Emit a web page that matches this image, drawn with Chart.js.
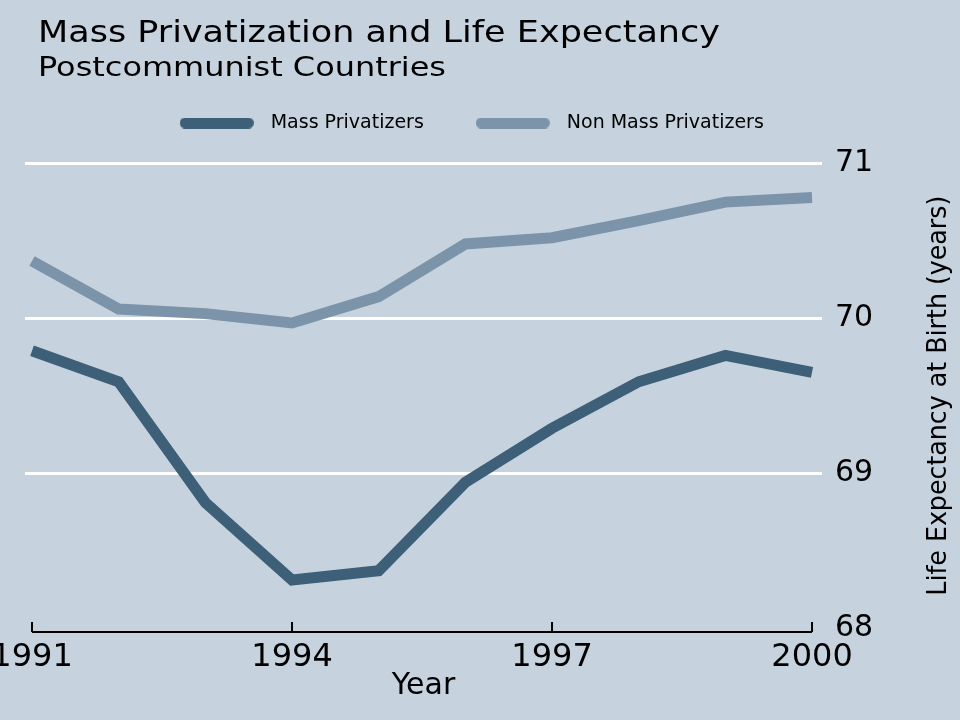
<!DOCTYPE html>
<html>
<head>
<meta charset="utf-8">
<script src="https://cdn.jsdelivr.net/npm/chart.js@4.4.1/dist/chart.umd.min.js"></script>
<style>
  html, body { margin: 0; padding: 0; background: #c6d3df; }
  #wrap { width: 960px; height: 720px; }
</style>
</head>
<body>
<div id="wrap"><canvas id="graphiqueVie"></canvas></div>
<script>
const annees = [1991, 1992, 1993, 1994, 1995, 1996, 1997, 1998, 1999, 2000];
const massPrivatizers = [69.79, 69.59, 68.81, 68.31, 68.37, 68.94, 69.29, 69.59, 69.76, 69.65];
const nonMassPrivatizers = [70.37, 70.06, 70.03, 69.97, 70.14, 70.48, 70.52, 70.63, 70.75, 70.78];
const xTicks = [1991, 1994, 1997, 2000];
const yTicks = [68, 69, 70, 71];

const titre = 'Mass Privatization and Life Expectancy';
const sousTitre = 'Postcommunist Countries';
const titreY = 'Life Expectancy at Birth (years)';

const FOND = '#c6d3df';
const COUL_MASS = '#3e5f78';
const COUL_NON = '#7c94aa';
const POLICE = '"DejaVu Sans", Verdana, sans-serif';

const toPoints = vals => annees.map((a, i) => ({ x: a, y: vals[i] }));

// petite pastille arrondie pour la légende
function pastille(couleur) {
    const c = document.createElement('canvas');
    c.width = 74; c.height = 11;
    const g = c.getContext('2d');
    g.fillStyle = couleur;
    g.beginPath();
    g.roundRect(0, 0, 74, 11, 5.5);
    g.fill();
    return c;
}

// texte étiré à une largeur donnée (le rendu d'origine est plus large)
function texteEtire(ctx, txt, x, y, largeur) {
    const w = ctx.measureText(txt).width;
    ctx.save();
    ctx.translate(x, y);
    ctx.scale(largeur / w, 1);
    ctx.fillText(txt, 0, 0);
    ctx.restore();
}

const decor = {
    id: 'decor',
    beforeDraw(chart) {
        const ctx = chart.ctx;
        ctx.save();
        ctx.fillStyle = FOND;
        ctx.fillRect(0, 0, chart.width, chart.height);
        ctx.fillStyle = '#000';
        ctx.textBaseline = 'alphabetic';
        ctx.font = '30px ' + POLICE;
        texteEtire(ctx, titre, 38, 42, 682);
        ctx.font = '26px ' + POLICE;
        texteEtire(ctx, sousTitre, 38, 76, 408);
        ctx.restore();
    },
    afterDraw(chart) {
        const ctx = chart.ctx;
        const x = chart.scales.x, y = chart.scales.y;
        const y0 = y.getPixelForValue(yTicks[0]) + 4;
        ctx.save();
        ctx.strokeStyle = '#000';
        ctx.lineWidth = 2;
        ctx.beginPath();
        ctx.moveTo(x.getPixelForValue(xTicks[0]), y0);
        ctx.lineTo(x.getPixelForValue(xTicks[xTicks.length - 1]), y0);
        xTicks.forEach(t => {
            const px = x.getPixelForValue(t);
            ctx.moveTo(px, y0);
            ctx.lineTo(px, y0 - 10);
        });
        ctx.stroke();

        const cy = (y.getPixelForValue(68) + y.getPixelForValue(71)) / 2;
        ctx.translate(946, cy);
        ctx.rotate(-Math.PI / 2);
        ctx.font = '26px ' + POLICE;
        ctx.fillStyle = '#000';
        ctx.textBaseline = 'alphabetic';
        texteEtire(ctx, titreY, -200, 0, 400);
        ctx.restore();
    }
};

new Chart(document.getElementById('graphiqueVie'), {
    type: 'line',
    data: {
        datasets: [{
            label: 'Mass Privatizers',
            data: toPoints(massPrivatizers),
            borderColor: COUL_MASS,
            backgroundColor: COUL_MASS,
            borderWidth: 11,
            pointRadius: 0,
            pointStyle: pastille(COUL_MASS),
            tension: 0,
            borderJoinStyle: 'miter',
            borderCapStyle: 'butt'
        }, {
            label: 'Non Mass Privatizers',
            data: toPoints(nonMassPrivatizers),
            borderColor: COUL_NON,
            backgroundColor: COUL_NON,
            borderWidth: 11,
            pointRadius: 0,
            pointStyle: pastille(COUL_NON),
            tension: 0,
            borderJoinStyle: 'miter',
            borderCapStyle: 'butt'
        }]
    },
    options: {
        responsive: true,
        maintainAspectRatio: false,
        animation: false,
        clip: false,
        layout: { padding: { top: 69, left: 25, right: 49, bottom: 16 } },
        plugins: {
            legend: {
                position: 'top',
                labels: {
                    font: { family: POLICE, size: 19 },
                    color: '#000',
                    usePointStyle: true,
                    pointStyleWidth: 89,
                    padding: 44.5
                }
            },
            tooltip: { enabled: false }
        },
        scales: {
            x: {
                type: 'linear',
                min: 1990.919,
                max: 2000.115,
                afterBuildTicks(scale) { scale.ticks = xTicks.map(v => ({ value: v })); },
                afterFit(scale) { scale.paddingLeft = 0; scale.paddingRight = 0; },
                grid: { display: false, drawTicks: false },
                border: { display: false },
                ticks: {
                    font: { family: POLICE, size: 32 },
                    color: '#000',
                    padding: 10,
                    maxRotation: 0,
                    autoSkip: false,
                    callback: v => String(v)
                },
                title: {
                    display: true,
                    text: 'Year',
                    font: { family: POLICE, size: 30 },
                    color: '#000',
                    padding: { top: -18.4, bottom: 0 }
                }
            },
            y: {
                position: 'right',
                min: 68,
                max: 71.135,
                afterBuildTicks(scale) { scale.ticks = yTicks.map(v => ({ value: v })); },
                afterFit(scale) { scale.width = 89; scale.paddingTop = 0; scale.paddingBottom = 0; },
                grid: {
                    color: ctx => ctx.tick && ctx.tick.value === 68 ? 'rgba(0,0,0,0)' : '#ffffff',
                    lineWidth: 3,
                    drawTicks: false
                },
                border: { display: false },
                ticks: {
                    font: { family: POLICE, size: 30 },
                    color: '#000',
                    padding: 13
                }
            }
        }
    },
    plugins: [decor]
});
</script>
</body>
</html>
